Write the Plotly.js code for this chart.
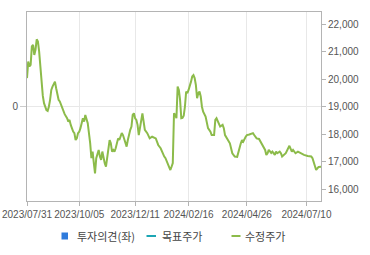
<!DOCTYPE html>
<html>
<head>
<meta charset="utf-8">
<script src="https://cdn.plot.ly/plotly-3.0.1.min.js"></script>
<style>
  html, body { margin: 0; padding: 0; background: #fff; }
  #chart { width: 370px; height: 255px; }
</style>
</head>
<body>
<div id="chart"></div>
<script>
// ---- data (trading-day index since 2023/07/31) ----
const tradingDay = [0,1,2,3,4,5,6,7,8,9,10,11,12,13,14,15,16,17,18,19,20,21,22,23,24,25,26,27,28,29,30,31,33,34,35,36,38,39,40,41,42,43,44,45,46,47,48,50,51,52,53,54,55,56,57,58,59,60,61,62,63,64,65,66,67,68,69,70,71,72,73,74,75,76,77,78,79,80,81,82,83,84,85,86,87,88,89,90,91,92,93,94,95,96,97,99,100,101,103,104,106,107,108,110,111,112,113,114,115,116,117,118,119,120,121,122,123,124,125,126,127,128,129,130,131,132,133,134,135,136,137,138,139,140,141,142,143,144,145,147,148,149,151,152,154,155,156,158,159,161,162,163,165,166,167,169,170,171,173,174,176,177,178,180,181,183,184,186,187,189,191,193,196,197,198,199,201,202,204,205,206,208,209,210,212,213,216,217,218,219,221,223,225,228,231,234,235,236,238,239,240,242];
const adjPrice = [20040,20640,20460,20520,21190,21250,20880,21070,21450,21370,21000,20400,19950,19400,19130,18950,18880,18850,19000,19250,19610,19730,19850,19910,19670,19490,19250,19190,19070,18940,18820,18730,18580,18460,18520,18340,18100,18040,17790,17850,18040,18090,18220,18460,18580,18460,18700,18400,18100,17680,17130,17370,16950,16580,17130,17310,17430,17190,17070,17370,17130,16950,16820,17130,17430,17790,17670,17370,17430,17370,17490,17670,17850,17790,17910,18040,17970,17850,17730,17550,17790,18040,18160,18280,18700,18760,18580,18520,18340,17970,18220,18520,18760,18460,18160,18040,17910,17850,17910,17890,17850,17730,17610,17490,17370,17250,17190,17130,17010,16950,16820,16700,16820,16950,18760,18700,18580,19730,19610,19250,18580,18590,18670,19000,19550,19490,19610,19730,19910,20100,20150,20040,19790,19310,19490,19550,19370,19000,18820,18640,18400,18220,18090,17970,17970,18520,18580,18400,18280,18340,18220,17970,17790,17730,17670,17310,17250,17190,17180,17370,17670,17790,17730,17910,17970,17990,18010,18040,17970,17850,17830,17670,17430,17250,17310,17430,17320,17370,17250,17370,17310,17370,17310,17190,17250,17310,17580,17490,17370,17430,17310,17370,17310,17250,17210,17190,17130,16950,16700,16760,16810,16820];
const targetDay = [];
const targetPrice = [];
const opinionDay = [];
const opinionValue = [];
const tickIndex = [0, 43, 89, 133, 181, 230];
const tickLabels = ['2023/07/31','2023/10/05','2023/12/11','2024/02/16','2024/04/26','2024/07/10'];
const leftTicks = [0];
const rightTicks = [16000,17000,18000,19000,20000,21000,22000];
const seriesNames = ['투자의견(좌)','목표주가','수정주가'];

// ---- styling ----
const C_OPINION = '#2f7bdc';
const C_TARGET = '#1ca6b4';
const C_PRICE = '#8cbb4a';
const AX = '#b4b4b4';
const GRID = '#e8e8e8';
const TXT = '#555555';
const numFont = {family: 'Liberation Sans, Arial, sans-serif', size: 10, color: TXT};

const traces = [
  {type: 'bar', name: seriesNames[0], x: opinionDay, y: opinionValue, yaxis: 'y', marker: {color: C_OPINION}, showlegend: false},
  {type: 'scatter', mode: 'lines', name: seriesNames[1], x: targetDay, y: targetPrice, yaxis: 'y2', line: {color: C_TARGET, width: 2}, showlegend: false},
  {type: 'scatter', mode: 'lines', name: seriesNames[2], x: tradingDay, y: adjPrice, yaxis: 'y2', line: {color: C_PRICE, width: 2}, showlegend: false}
];

// legend drawn in paper coordinates (plot area 27..321 x 12..201 px)
const PW = 294, PH = 189, PL = 27, PB = 201;
const px = X => (X - PL) / PW;
const py = Y => (PB - Y) / PH;
const legFont = {family: 'Noto Sans CJK KR, sans-serif', size: 11, color: '#444'};

const layout = {
  width: 370, height: 255,
  margin: {l: 27, r: 49, t: 12, b: 54, pad: 0},
  paper_bgcolor: '#fff', plot_bgcolor: '#fff',
  showlegend: false,
  xaxis: {
    range: [0, 242], tickmode: 'array', tickvals: tickIndex, ticktext: tickLabels, tickangle: 0,
    showgrid: true, gridcolor: GRID, gridwidth: 1, zeroline: false,
    ticks: 'outside', ticklen: 4, tickcolor: AX, showline: true, linecolor: AX, linewidth: 1, mirror: true,
    tickfont: numFont, automargin: false, fixedrange: true
  },
  yaxis: {
    range: [-1, 1], tickmode: 'array', tickvals: leftTicks, ticktext: leftTicks.map(String),
    showgrid: true, gridcolor: GRID, zeroline: false,
    ticks: 'outside', ticklen: 6, tickcolor: '#cccccc', showline: true, linecolor: AX, linewidth: 1, mirror: true,
    tickfont: numFont, automargin: false, fixedrange: true
  },
  yaxis2: {
    overlaying: 'y', side: 'right', range: [15575, 22440],
    tickmode: 'array', tickvals: rightTicks, ticktext: rightTicks.map(v => v.toLocaleString('en-US')),
    showgrid: false, zeroline: false,
    ticks: 'outside', ticklen: 4, tickcolor: AX, showline: true, linecolor: AX, linewidth: 1,
    tickfont: numFont, automargin: false, fixedrange: true
  },
  shapes: [
    {type: 'rect', xref: 'paper', yref: 'paper', x0: px(61.5), x1: px(68), y0: py(239.5), y1: py(232.5), fillcolor: C_OPINION, line: {width: 0}},
    {type: 'line', xref: 'paper', yref: 'paper', x0: px(146.5), x1: px(156), y0: py(236), y1: py(236), line: {color: C_TARGET, width: 2}},
    {type: 'line', xref: 'paper', yref: 'paper', x0: px(231.5), x1: px(240.5), y0: py(236), y1: py(236), line: {color: C_PRICE, width: 2}}
  ],
  annotations: [
    {xref: 'paper', yref: 'paper', x: px(74.5), y: py(236), xanchor: 'left', yanchor: 'middle', text: seriesNames[0], showarrow: false, font: legFont},
    {xref: 'paper', yref: 'paper', x: px(159.5), y: py(236), xanchor: 'left', yanchor: 'middle', text: seriesNames[1], showarrow: false, font: legFont},
    {xref: 'paper', yref: 'paper', x: px(243), y: py(236), xanchor: 'left', yanchor: 'middle', text: seriesNames[2], showarrow: false, font: legFont}
  ]
};

Plotly.newPlot('chart', traces, layout, {displayModeBar: false, staticPlot: true});
</script>
</body>
</html>
